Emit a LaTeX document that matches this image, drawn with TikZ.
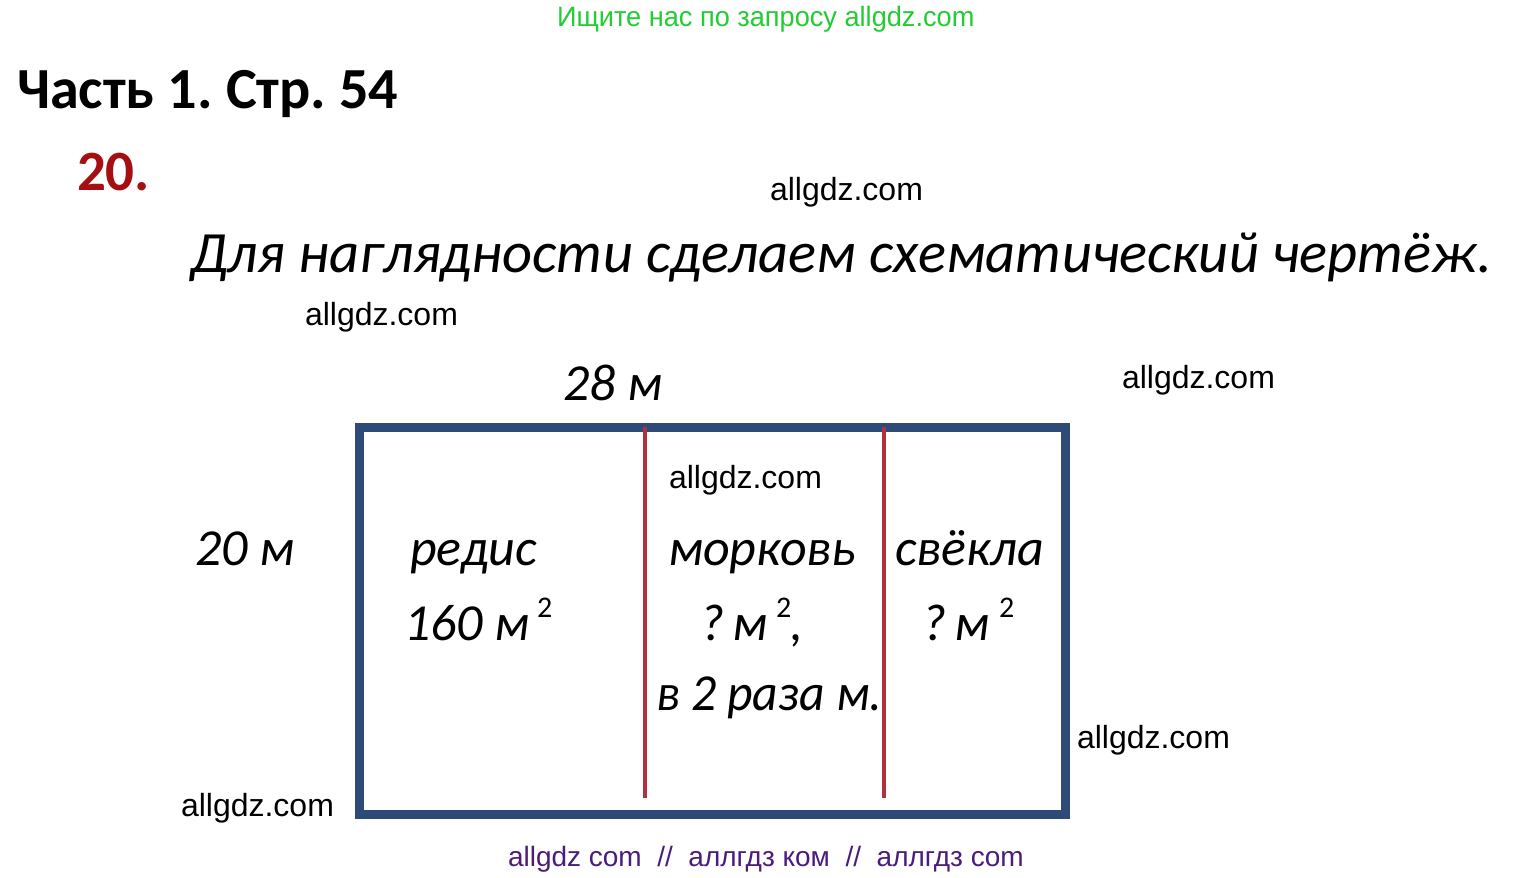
\documentclass[tikz,border=0pt]{standalone}
\usepackage{fontspec}
\setmainfont{Carlito}
\newfontfamily\wmfont{Liberation Sans}
\frenchspacing
\definecolor{navy}{HTML}{2E4A76}
\definecolor{redline}{HTML}{B0323F}
\definecolor{wmgreen}{HTML}{22CC33}
\definecolor{wmpurple}{HTML}{4A1C7C}
\definecolor{numred}{HTML}{A50F12}
\tikzset{
  txt/.style={anchor=base west, inner sep=0pt, outer sep=0pt},
  wm/.style={txt, font=\wmfont\fontsize{32}{36}\selectfont},
  body/.style={txt, font=\itshape\fontsize{52}{60}\selectfont},
  supr/.style={txt, font=\fontsize{30}{34}\selectfont},
}
\begin{document}
\begin{tikzpicture}[x=1pt,y=-1pt]
\useasboundingbox (0,0) rectangle (1534,878);
% header
\node[txt, text=wmgreen, font=\wmfont\fontsize{28}{30}\selectfont] (top) at (557,27) {\scalebox{0.97}[1]{Ищите нас по запросу allgdz.com}};
\node[txt, font=\bfseries\fontsize{58.2}{64}\selectfont] (title) at (17,108) {Часть 1. Стр. 54};
\node[txt, text=numred, font=\bfseries\fontsize{57}{64}\selectfont] (num) at (77,190) {20.};
\node[txt, font=\itshape\fontsize{58.5}{66}\selectfont] (intro) at (190,272) {Для наглядности сделаем схематический чертёж.};
% watermarks
\node[wm] (w1) at (770,200) {allgdz.com};
\node[wm] (w2) at (305,325) {allgdz.com};
\node[wm] (w3) at (1122,388) {allgdz.com};
\node[wm] (w4) at (669,488) {allgdz.com};
\node[wm] (w5) at (1077,748) {allgdz.com};
\node[wm] (w6) at (181,816) {allgdz.com};
\node[txt, text=wmpurple, font=\wmfont\fontsize{28}{30}\selectfont] (bottom) at (508,866) {allgdz com\ \ //\ \ аллгдз ком\ \ //\ \ аллгдз com};
% field
\coordinate (tl) at (359,427);
\coordinate (br) at (1065.5,814);
\draw[navy, line width=9pt] (tl) rectangle (br);
\coordinate (r1t) at (645,427);
\coordinate (r1b) at (645,798);
\coordinate (r2t) at (883.5,427);
\coordinate (r2b) at (883.5,798);
\draw[redline, line width=4pt] (r1t) -- (r1b);
\draw[redline, line width=4pt] (r2t) -- (r2b);
% dimensions
\node[body] (len) at (563,400) {28 м};
\node[body] (wid) at (195,565) {20 м};
% columns
\node[body] (c1a) at (410,565) {редис};
\node[body] (c1b) at (404,640) {160 м};
\node[supr] (c1s) at (537,617) {2};
\node[body] (c2a) at (668,565) {морковь};
\node[body] (c2b) at (700,640) {?\,м};
\node[supr] (c2s) at (776,617) {2};
\node[body] (c2c) at (790,640) {,};
\node[body] (c2d) at (656,710) {\scalebox{0.955}[1]{в 2 раза м.}};
\node[body] (c3a) at (895,565) {свёкла};
\node[body] (c3b) at (922,640) {?\,м};
\node[supr] (c3s) at (999,617) {2};
\end{tikzpicture}
\end{document}
